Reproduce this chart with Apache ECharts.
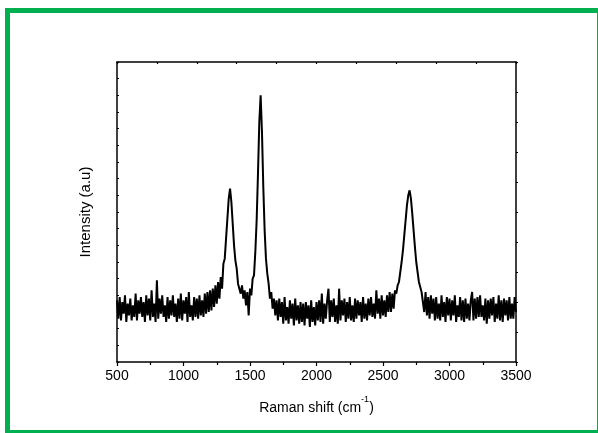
<!DOCTYPE html>
<html>
<head>
<meta charset="utf-8">
<title>Raman spectrum</title>
<script src="https://cdn.jsdelivr.net/npm/echarts@6/dist/echarts.min.js"></script>
<style>
  html, body { margin: 0; padding: 0; background: #fff; }
  #chart { width: 598px; height: 433px; }
</style>
</head>
<body>
<div id="chart"></div>
<script>
  // x grid of the spectrum (cm-1): first point and spacing
  const shiftStart = 500;
  const shiftStep = 10;

  // intensity, one row per 100 cm-1
  const intensity = [
    370, 260, 390, 250, 360, 290, 400, 240, 350, 280, // 500
    380, 250, 340, 270, 410, 250, 370, 290, 390, 270, // 600
    360, 240, 400, 280, 380, 250, 430, 270, 350, 240, // 700
    490, 260, 380, 290, 400, 270, 340, 240, 390, 260, // 800
    370, 280, 400, 270, 350, 240, 380, 260, 410, 250, // 900
    370, 290, 390, 240, 420, 270, 340, 250, 390, 270, // 1000
    380, 260, 400, 280, 370, 270, 410, 290, 420, 300, // 1100
    430, 310, 440, 330, 460, 350, 480, 380, 510, 440, // 1200
    590, 620, 740, 860, 980, 1040, 960, 830, 700, 610, // 1300
    560, 470, 480, 410, 460, 380, 430, 340, 420, 280, // 1400
    440, 400, 500, 520, 660, 850, 1130, 1440, 1600, 1380, // 1500
    1050, 790, 620, 530, 470, 380, 420, 320, 380, 280, // 1600
    370, 250, 380, 270, 360, 230, 390, 250, 330, 230, // 1700
    370, 260, 350, 220, 380, 250, 340, 230, 360, 240, // 1800
    350, 220, 360, 260, 340, 210, 370, 240, 330, 220, // 1900
    360, 250, 370, 240, 410, 230, 350, 260, 370, 440, // 2000
    240, 370, 270, 380, 240, 340, 230, 440, 250, 370, // 2100
    280, 380, 240, 360, 260, 390, 250, 340, 240, 380, // 2200
    260, 370, 280, 360, 240, 390, 260, 350, 250, 380, // 2300
    280, 390, 270, 350, 260, 430, 290, 380, 260, 400, // 2400
    280, 370, 270, 400, 300, 420, 300, 410, 320, 430, // 2500
    410, 460, 480, 540, 600, 670, 760, 850, 940, 1000, // 2600
    1030, 980, 890, 790, 690, 600, 540, 480, 450, 420, // 2700
    430, 300, 420, 280, 390, 260, 400, 290, 380, 250, // 2800
    390, 260, 350, 250, 400, 270, 360, 240, 390, 280, // 2900
    380, 250, 370, 280, 400, 240, 340, 270, 390, 250, // 3000
    370, 240, 380, 260, 350, 250, 370, 420, 250, 380, // 3100
    260, 390, 270, 400, 270, 340, 250, 380, 230, 370, // 3200
    260, 380, 280, 390, 240, 350, 260, 400, 250, 370, // 3300
    240, 380, 280, 370, 250, 390, 260, 350, 260, 390, // 3400
    300 // 3500
  ];

  const xTicks = [500, 1000, 1500, 2000, 2500, 3000, 3500];

  const FONT = '"Liberation Sans", Arial, sans-serif';
  const INK = '#000';

  const points = intensity.map((v, i) => [shiftStart + i * shiftStep, v]);

  const chart = echarts.init(document.getElementById('chart'), null, { renderer: 'canvas' });

  chart.setOption({
    animation: false,
    backgroundColor: '#fff',
    textStyle: { fontFamily: FONT },
    graphic: [{
      type: 'rect',
      shape: { x: 7.5, y: 10.5, width: 592, height: 422 },
      style: { fill: null, stroke: '#00b050', lineWidth: 5 },
      silent: true,
      z: 10
    }],
    grid: { left: 117, right: 82, top: 62, bottom: 71 },
    xAxis: [
      {
        type: 'value',
        position: 'bottom',
        min: xTicks[0],
        max: xTicks[xTicks.length - 1],
        interval: 500,
        name: '{main|Raman shift (cm}{sup|-1}{main|)}',
        nameLocation: 'middle',
        nameGap: 33,
        nameTextStyle: {
          color: INK, fontSize: 14, fontFamily: FONT,
          rich: {
            main: { fontSize: 14, lineHeight: 20, verticalAlign: 'bottom', color: INK, fontFamily: FONT },
            sup: { fontSize: 9, lineHeight: 9, verticalAlign: 'top', color: INK, fontFamily: FONT }
          }
        },
        axisLine: { onZero: false, lineStyle: { color: INK, width: 1.5 } },
        axisTick: { inside: false, length: 4, lineStyle: { color: INK, width: 1.2 } },
        minorTick: { show: true, splitNumber: 2, length: 3, lineStyle: { color: INK, width: 1.2 } },
        axisLabel: { color: INK, fontSize: 14, fontFamily: FONT, margin: 7, formatter: v => String(v) },
        splitLine: { show: false }
      },
      {
        type: 'value',
        position: 'top',
        min: 500,
        max: 3500,
        interval: 300,
        axisLine: { show: true, onZero: false, lineStyle: { color: INK, width: 1.5 } },
        axisTick: { inside: true, length: 2, lineStyle: { color: INK, width: 1.2 } },
        axisLabel: { show: false },
        splitLine: { show: false }
      }
    ],
    yAxis: [
      {
        type: 'value',
        position: 'left',
        min: 0,
        max: 1800,
        interval: 100,
        name: 'Intensity (a.u)',
        nameLocation: 'middle',
        nameGap: 24,
        nameTextStyle: { color: INK, fontSize: 15, fontFamily: FONT },
        axisLine: { show: true, onZero: false, lineStyle: { color: INK, width: 1.5 } },
        axisTick: { show: true, inside: true, length: 2, lineStyle: { color: INK, width: 1.2 } },
        axisLabel: { show: false },
        splitLine: { show: false }
      },
      {
        type: 'value',
        position: 'right',
        min: 0,
        max: 1000,
        interval: 100,
        axisLine: { show: true, onZero: false, lineStyle: { color: INK, width: 1.5 } },
        axisTick: { show: true, inside: false, length: 2, lineStyle: { color: INK, width: 1.2 } },
        axisLabel: { show: false },
        splitLine: { show: false }
      }
    ],
    series: [{
      type: 'line',
      xAxisIndex: 0,
      yAxisIndex: 0,
      data: points,
      showSymbol: false,
      symbol: 'none',
      lineStyle: { color: INK, width: 2 },
      silent: true
    }]
  });
</script>
</body>
</html>
